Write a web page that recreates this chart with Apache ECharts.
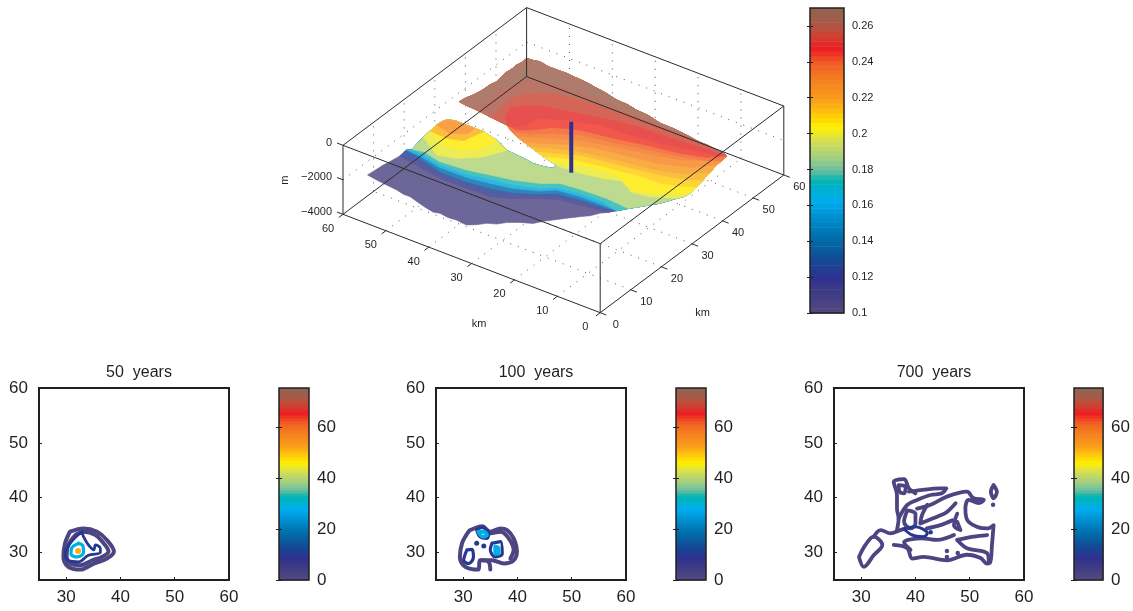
<!DOCTYPE html>
<html><head><meta charset="utf-8"><style>html,body{margin:0;background:#fff}#c{width:1133px;height:611px}</style>
<script src="https://cdn.jsdelivr.net/npm/echarts@6/dist/echarts.min.js"></script></head><body><div id="c"></div>
<script>
// Seabed surface: outer outline (km along the two horizontal axes)
const surfaceRingU=[59.0,58.8,58.6,58.2,57.9,58.1,57.4,57.8,58.1,58.4,58.6,58.5,58.1,56.7,54.0,52.0,50.0,48.2,46.2,44.4,42.6,40.9,39.2,37.5,
35.8,34.3,32.9,31.6,31.9,33.7,35.6,37.7,39.7,41.8,43.8,45.6,47.8,50.0,52.1,54.2,56.4,58.2,59.9,59.6,59.1,58.7,58.6,58.2,
58.7,58.5,58.6,58.3,58.4,56.9,55.7,53.4,51.4,49.5,47.4,44.6,41.4,38.9,35.9,33.5,30.8,27.8,24.4,20.9,17.1,14.7,12.8,10.7,
9.1,7.4,7.2,7.1,6.6,6.1,5.6,5.4,5.7,6.4,7.2,8.0,9.2,10.4,11.8,13.1,14.3,15.2,16.2,17.6,19.3,21.0,22.3,23.4,
25.7,27.7,28.9,30.6,31.9,33.4,34.6,35.9,37.7,39.9,41.1,43.0,45.4,47.9,49.5,51.4,53.1,54.8,56.9];
const surfaceRingV=[6.6,8.8,11.2,13.4,15.6,18.1,18.9,21.2,23.6,26.2,28.6,30.1,31.2,31.9,31.9,31.9,31.9,31.4,30.9,30.0,29.1,28.9,28.7,28.5,
28.2,28.3,28.6,29.0,30.3,30.8,31.3,32.0,32.7,33.4,34.1,35.0,36.4,36.7,36.9,37.3,37.5,37.6,37.9,39.8,41.3,43.5,46.1,47.8,
51.1,53.0,54.8,56.0,57.8,57.9,58.3,57.8,57.8,57.9,57.7,57.5,56.9,56.5,55.7,55.6,55.0,54.7,53.8,53.7,53.2,52.7,52.7,52.4,
52.4,51.7,49.8,48.0,45.1,42.2,39.4,36.9,35.2,34.0,32.3,30.7,29.1,27.5,25.7,23.8,22.2,21.2,19.4,18.0,16.1,14.1,12.6,10.9,
9.7,8.2,6.7,5.8,4.3,3.1,3.2,3.4,3.2,3.5,3.1,3.5,4.2,5.0,5.0,5.5,5.7,5.9,6.2];
const surfaceBase=0.105, surfaceDepth=-2500;
// Isolines of the coloured value over the surface
const rowLevels=[.115,.125,.14,.16,.175,.19,.2,.205,.215,.225,.2,.205,.21,.215,.22,.23,.235,.24,.245,.25,.255,.26,.267];
const rowU=[
[57.9,55.2,47.1,40.9,35.6,31.6,27.5,24.1,18.6,14.3,13.1],
[57.9,54.3,47.8,41.6,36.3,32.3,28.1,24.8,19.2,14.8,13.1],
[58.1,54.3,48.5,42.3,37.3,32.8,28.4,26.0,20.4,15.9,13.1],
[58.1,54.8,49.3,43.1,38.3,33.7,29.0,26.7,21.7,17.1,13.1],
[57.4,54.9,49.8,43.9,39.2,34.4,29.6,27.2,22.4,17.1,13.1],
[57.4,55.2,50.5,44.7,40.1,35.4,30.6,27.5,23.2,17.2,11.8],
[58.1,52.4,48.6,45.2,43.5,42.6],
[58.4,53.4,49.8,46.9,46.2],
[58.4,54.3,51.2,50.0],
[58.6,54.8,52.0,52.0],
[31.9,31.0,26.5,21.9,17.6,15.0,10.9,6.4],
[33.7,30.1,25.5,20.5,16.5,13.5,10.0,5.4],
[35.6,31.6,27.0,21.5,16.7,12.1,7.8,5.6],
[37.7,34.2,30.3,24.8,19.3,13.8,8.6,6.1],
[39.7,35.8,31.6,26.3,20.8,15.3,9.9,6.6],
[41.8,38.9,34.5,29.7,23.6,16.7,10.7,7.1],
[43.8,41.6,37.8,33.4,26.8,20.3,13.8,7.2],
[45.6,42.3,38.9,34.4,27.7,21.1,14.5,9.0,7.2],
[47.8,45.2,43.1,40.1,35.4,28.6,22.0,15.2,10.2,7.4],
[47.8,46.4,44.7,44.5,39.5,33.4,26.7,20.3,15.0,10.5,7.4],
[47.8,49.8,50.8,48.8,46.0,40.2,33.7,26.8,19.3,12.8,7.4],
[52.1,52.2,52.8,51.2,47.1,41.8,35.8,28.4,20.7,12.6,7.4],
[56.4,55.7,56.1,54.0,49.2,43.3,36.9,30.6,21.2,12.8]];
const rowV=[
[15.6,15.1,13.6,13.7,13.8,15.9,18.9,20.6,21.6,22.2,23.8],
[15.6,16.1,14.6,14.6,14.8,16.9,19.7,21.6,22.4,22.9,23.8],
[18.1,17.2,15.5,15.6,16.3,17.6,20.1,22.2,23.0,23.3,23.8],
[18.1,17.9,16.7,16.8,17.7,18.8,21.0,23.1,23.8,23.9,23.8],
[18.9,18.6,17.5,17.8,18.9,19.8,21.8,23.9,24.7,24.9,23.8],
[18.9,19.5,18.4,19.0,20.1,21.2,23.2,25.4,25.9,26.2,25.7],
[23.6,20.0,21.2,24.1,27.1,29.1],
[26.2,23.6,24.0,26.4,30.9],
[26.2,25.9,27.1,31.9],
[28.6,27.7,29.7,31.9],
[30.3,30.2,30.5,31.6,33.3,30.7,31.5,34.0],
[30.8,32.3,33.4,34.1,31.8,31.8,33.6,36.9],
[31.3,33.4,34.5,35.5,36.4,36.5,38.1,39.4],
[32.0,33.7,35.8,36.8,37.8,38.9,40.4,42.2],
[32.7,34.8,36.6,37.9,38.9,39.9,42.1,45.1],
[33.4,34.8,37.4,39.4,40.6,41.9,44.4,48.0],
[34.1,35.4,37.7,40.1,41.9,43.6,45.4,49.8],
[35.0,36.3,39.1,41.6,43.1,44.8,46.4,48.4,49.8],
[36.4,36.0,37.5,40.8,43.0,44.3,46.0,47.3,49.1,51.7],
[36.4,36.6,38.6,41.6,44.4,46.7,47.1,48.0,49.3,50.6,51.7],
[36.4,38.6,42.2,44.3,45.9,47.6,49.3,50.6,50.9,51.6,51.7],
[36.9,40.4,44.4,47.7,50.7,52.0,52.2,52.8,52.8,52.5,51.7],
[37.5,40.9,46.9,51.6,53.5,54.1,53.8,53.7,53.6,52.7]];
const poleU=29.6,poleV=32,poleZ=[0,-2957];
const uTicks=[0,10,20,30,40,50,60],vTicks=[0,10,20,30,40,50,60],zTicks=[0,-2000,-4000];
const barTicksTop=[0.1,0.12,0.14,0.16,0.18,0.2,0.22,0.24,0.26];
const barTicksBottom=[0,20,40,60];
const panelTicks=[30,40,50,60];
const panelTitles=['50  years','100  years','700  years'];
const stops=[[0,'#544a80'],[.074,'#3d3a85'],[.118,'#2e3192'],[.184,'#104e96'],[.239,'#006aa8'],[.315,'#0090d0'],[.37,'#00aeef'],[.435,'#00b4b4'],[.468,'#6abf9f'],[.512,'#a3cf80'],[.567,'#d8df50'],[.61,'#fff200'],[.654,'#ffc60b'],[.70,'#f99d1c'],[.775,'#f47b20'],[.824,'#f15a24'],[.868,'#ed1c24'],[.906,'#d2402e'],[.95,'#a85a48'],[1,'#8f6552']];
const hex=c=>[1,3,5].map(i=>parseInt(c.substr(i,2),16));
function cmap(t,wash){t=Math.max(0,Math.min(.9999,t));t=(Math.floor(t*64)+.5)/64;let i=0;while(i<stops.length-2&&t>stops[i+1][0])i++;const a=stops[i],b=stops[i+1],f=Math.min(1,(t-a[0])/(b[0]-a[0]));const A=hex(a[1]),B=hex(b[1]);return 'rgb('+A.map((x,k)=>{const v=x+(B[k]-x)*f;return Math.round(v+(255-v)*(wash||0))}).join(',')+')'}
const p1Purple=[[[30.7,33.8],[33.2,34.4],[35.7,33.8],[37.5,32.3],[38.8,30.2],[37.5,28.9],[35.1,28.0],[32.6,26.9],[30.4,27.4],[29.5,29.2],[29.8,31.7]],[[31.7,33.2],[33.2,33.8],[35.4,33.2],[36.9,31.7],[37.8,30.2],[36.6,29.2],[34.8,28.6],[32.6,27.7],[30.7,28.0],[30.1,29.2],[30.4,31.4]]];
const p1Blue=[[[32.9,33.8],[31.0,32.0],[29.8,29.8],[30.4,28.6],[32.3,28.3],[34.1,29.5],[36.3,30.0],[36.3,30.8],[35.4,31.4],[35.1,30.5],[34.1,31.4],[33.2,32.9]]];
const p1Cyan=[[[32.3,31.7],[31.0,30.8],[30.9,29.7],[32.1,29.2],[33.2,30.0],[33.1,31.2]]];
const p1Hot=[[32.2,30.3]];
const p2Purple=[[[31.0,33.8],[29.8,31.7],[29.4,29.2],[30.4,27.4],[32.8,26.9],[33.1,28.6],[35.3,28.6],[37.5,28.0],[39.3,28.6],[39.9,30.2],[39.3,32.6],[38.1,34.1],[36.9,34.4],[35.0,33.8],[33.5,34.8],[31.3,34.1]]];
const p2Open=[[[35.0,33.5],[36.9,33.8],[38.4,32.6],[39.3,30.5],[38.7,28.9]],[[33.5,28.6],[34.7,28.3],[35.0,26.9]]];
const p2Blue=[[[32.5,34.1],[33.5,34.6],[34.7,33.5],[34.4,32.6],[33.1,32.9]],[[30.7,30.5],[31.6,30.6],[31.9,29.2],[31.0,28.0],[30.1,28.6]],[[35.3,31.7],[36.9,32.0],[37.2,29.8],[35.9,29.2],[35.0,30.5]]];
const p2Cyan=[[[32.8,33.8],[33.8,33.8],[34.4,33.2],[33.6,32.9]],[[35.9,31.1],[36.5,30.8],[36.5,29.8],[35.9,29.8]]];
const p2Dots=[[32.5,31.7],[33.8,31.2]];
const p3Closed=[[[29.6,29.2],[30.8,31.4],[32.3,32.9],[33.9,31.4],[32.3,29.5],[30.5,27.4]],[[36.9,42.3],[38.2,42.0],[37.9,40.8],[37.1,41.1]],[[38.5,37.7],[40.0,37.1],[40.0,35.3],[39.1,34.4],[37.9,35.6]],[[54.4,42.3],[55.0,41.1],[54.4,39.9],[53.9,41.1]]];
const p3Open=[[[32.3,32.9],[33.6,34.1],[35.4,33.5],[37.2,34.1],[38.2,34.4]],[[36.6,34.1],[36.9,36.2],[36.6,38.0],[36.6,40.5],[36.0,42.9],[37.9,43.4],[38.8,41.7],[40.0,40.8]],[[38.8,41.1],[40.9,41.4],[44.6,41.7],[45.7,41.7],[44.9,40.8],[42.8,40.5],[40.3,39.6],[38.5,38.7],[36.9,36.2]],[[40.3,38.0],[42.8,38.7],[45.8,40.2],[49.5,41.1],[50.7,39.9],[52.6,39.6],[51.7,39.0],[49.8,39.6],[49.2,38.0],[49.8,35.6],[53.2,34.4],[54.4,35.0],[54.1,31.4],[53.8,28.3],[53.2,28.0],[52.0,29.0],[49.5,29.6],[45.8,28.6],[41.5,29.2],[39.4,28.9],[38.5,30.8],[36.0,31.4]],[[42.2,38.7],[41.2,36.8],[40.9,35.3],[44.6,36.8],[45.8,37.4],[47.4,39.0]],[[47.7,37.1],[47.1,35.0],[48.3,34.1],[47.7,35.6]],[[47.1,33.2],[44.0,32.3],[41.2,32.6],[37.9,31.9],[39.1,30.5]],[[47.7,32.3],[50.7,32.9],[53.2,33.2]],[[47.7,32.3],[49.5,30.8],[53.2,29.9],[53.5,28.3]],[[42.1,34.4],[44.6,35.0],[46.8,35.9]]];
const p3Blue=[[[37.9,34.3],[40.0,34.7],[42.2,33.5],[41.5,32.9],[39.4,33.2]]];
const p3Dots=[[54.3,38.7],[45.8,30.3],[45.8,29.2],[47.8,29.9]];
const p3BlueDots=[[42.8,33.7]];

// projection of the 3D box
const O={x:600.2,y:312.7},UX=-4.2867,VX=3.06,UY=-1.64,VY=-2.295,ZY=0.01725;
const proj=(u,v,z)=>[O.x+UX*u+VX*v,O.y+UY*u+VY*v-ZY*(z+4000)];
const near=(u,v)=>{let b=0,d=1e9;surfaceRingU.forEach((x,i)=>{const e=(x-u)**2+(surfaceRingV[i]-v)**2;if(e<d){d=e;b=i}});return b};
const polys=[{lv:surfaceBase,pts:surfaceRingU.map((x,i)=>[x,surfaceRingV[i]])}];
rowLevels.forEach((lv,r)=>{const pts=rowU[r].map((x,i)=>[x,rowV[r][i]]);const s=near(...pts[0]),e=near(...pts[pts.length-1]);let k=e;const n=surfaceRingU.length;for(let g=0;g<n;g++){pts.push([surfaceRingU[k],surfaceRingV[k]]);if(k===s)break;k=(k-1+n)%n}polys.push({lv,pts})});
const majors=[],dots=[];
const E=[[0,0],[60,0],[60,60],[0,60]];
E.forEach((c,i)=>{const d=E[(i+1)%4];majors.push([[c[0],c[1],-4000],[d[0],d[1],-4000]]);majors.push([[c[0],c[1],0],[d[0],d[1],0]]);majors.push([[c[0],c[1],-4000],[c[0],c[1],0]])});
uTicks.forEach(u=>{majors.push([[u,0,-4000],[u,-1.4,-4000]]);if(u>0&&u<60){dots.push([[u,0,-4000],[u,60,-4000]]);dots.push([[u,60,-4000],[u,60,0]])}});
vTicks.forEach(v=>{majors.push([[0,v,-4000],[-1.4,v,-4000]]);if(v>0&&v<60){dots.push([[0,v,-4000],[60,v,-4000]]);dots.push([[60,v,-4000],[60,v,0]])}});
zTicks.forEach(z=>{majors.push([[60,0,z],[61.4,0,z]]);if(z===-2000){dots.push([[60,0,z],[60,60,z]]);dots.push([[60,60,z],[0,60,z]])}});
const texts=[];
uTicks.forEach(u=>{const p=proj(u,0,-4000);texts.push([p[0]-15,p[1]+14.5,String(u),'center'])});
vTicks.forEach(v=>{const p=proj(0,v,-4000);texts.push([p[0]+15.5,p[1]+12,String(v),'center'])});
zTicks.forEach(z=>{const p=proj(60,0,z);texts.push([p[0]-11,p[1]-2.5,z===0?'0':'\u2212'+Math.abs(z),'right'])});
const kmA=proj(16.4,-16.6,-4000),kmB=proj(-15.9,11.2,-4000),mLab=proj(68.9,-6.5,-2000);
const o={animation:false,grid:[{left:0,top:0,width:1133,height:611,show:false}],xAxis:[{type:'value',min:0,max:1133,show:false,gridIndex:0}],yAxis:[{type:'value',min:0,max:611,inverse:true,show:false,gridIndex:0}],title:[],series:[]};
const lineS=(list,style)=>({type:'custom',xAxisIndex:0,yAxisIndex:0,silent:true,clip:false,data:list.map((_,i)=>[i]),renderItem:(p,api)=>{const s=list[p.dataIndex];const a=api.coord(proj(...s[0])),b=api.coord(proj(...s[1]));return{type:'line',shape:{x1:a[0],y1:a[1],x2:b[0],y2:b[1]},style}}});
o.series.push(lineS(dots,{stroke:'#555',lineWidth:1,lineDash:[1,7],fill:null}));
o.series.push({type:'custom',xAxisIndex:0,yAxisIndex:0,silent:true,clip:false,data:polys.map((_,i)=>[i]),renderItem:(p,api)=>{const q=polys[p.dataIndex];const c=cmap((q.lv-.1)/.17,.18);return{type:'polygon',shape:{points:q.pts.map(a=>api.coord(proj(a[0],a[1],surfaceDepth)))},style:{fill:c,stroke:c,lineWidth:.6}}}});
o.series.push(lineS(majors,{stroke:'#2b2b2b',lineWidth:1,fill:null}));
o.series.push(lineS([[[poleU,poleV,poleZ[0]],[poleU,poleV,poleZ[1]]]],{stroke:'#2e3192',lineWidth:4,fill:null}));
o.series.push({type:'custom',xAxisIndex:0,yAxisIndex:0,silent:true,clip:false,data:texts.map((_,i)=>[i]),renderItem:(p,api)=>{const t=texts[p.dataIndex];const a=api.coord([t[0],t[1]]);return{type:'text',x:a[0],y:a[1],style:{text:t[2],fill:'#231f20',font:'11px "Liberation Sans"',align:t[3],verticalAlign:'middle'}}}});
o.series.push({type:'custom',xAxisIndex:0,yAxisIndex:0,silent:true,clip:false,data:[[0],[1],[2]],renderItem:(p,api)=>{const i=p.dataIndex;const q=api.coord(i===0?kmA:i===1?kmB:mLab);return{type:'text',x:q[0],y:q[1],rotation:i===2?Math.PI/2:0,style:{text:i===2?'m':'km',fill:'#231f20',font:'11px "Liberation Sans"',align:'center',verticalAlign:'middle'}}}});
function addBar(left,top,w,h,min,max,ticks,fs,labelMargin,pad){const gi=o.grid.length;o.grid.push({left,top,width:w,height:h,show:true,borderColor:'#231f20',borderWidth:1.5,backgroundColor:'transparent',z:5});const xi=o.xAxis.length;o.xAxis.push({type:'value',min:0,max:1,show:false,gridIndex:gi});const yi=o.yAxis.length;
const tk={show:true,inside:true,length:3,lineStyle:{color:'#231f20'},customValues:ticks};
o.yAxis.push({type:'value',min,max,position:'right',gridIndex:gi,axisLine:{show:false},splitLine:{show:false},axisTick:tk,axisLabel:{fontFamily:'Liberation Sans',fontSize:fs,color:'#231f20',margin:labelMargin,padding:[pad,0,0,0],customValues:ticks},z:6});
o.yAxis.push({type:'value',min,max,position:'left',gridIndex:gi,axisLine:{show:false},splitLine:{show:false},axisTick:tk,axisLabel:{show:false,customValues:ticks},z:6});
const N=64,cells=[];for(let i=0;i<N;i++)cells.push([min+(max-min)*i/N,min+(max-min)*(i+1)/N,i]);
o.series.push({type:'custom',xAxisIndex:xi,yAxisIndex:yi,silent:true,data:cells,renderItem:(p,api)=>{const a=api.coord([0,api.value(1)]),b=api.coord([1,api.value(0)]);const c=cmap((api.value(2)+.5)/N);return{type:'rect',shape:{x:a[0],y:a[1],width:b[0]-a[0],height:b[1]-a[1]+.5},style:{fill:c}}}});}
addBar(810,8,34,305,.1,.27,barTicksTop,11,8,2);
const panels=[[39,279],[436,676],[834,1074]];
const PUR=cmap(.03),BLU=cmap(.14),CYA=cmap(.38),HOT=cmap(.68);
function addPanel(i,lists,dotsL){const [l,b]=panels[i];const gi=o.grid.length;o.grid.push({left:l,top:388,width:190,height:192,show:true,borderColor:'#231f20',borderWidth:2,backgroundColor:'transparent'});const xi=o.xAxis.length,yi=o.yAxis.length;
const ax=(pos)=>({type:'value',min:25,max:60,position:pos,gridIndex:gi,axisLine:{show:false},splitLine:{show:false},axisTick:{inside:true,length:3,lineStyle:{color:'#231f20'},customValues:panelTicks},axisLabel:{fontFamily:'Liberation Sans',fontSize:17,color:'#231f20',margin:pos==='left'?11:9,padding:pos==='left'?[3,0,0,0]:0,customValues:panelTicks}});
o.xAxis.push(ax('bottom'));o.yAxis.push(ax('left'));
o.title.push({text:panelTitles[i],left:l+95,top:360,textAlign:'center',textStyle:{fontFamily:'Liberation Sans',fontSize:16,fontWeight:'normal',color:'#231f20'}});
lists.forEach(([arr,color,closed,w])=>arr.forEach(c=>{o.series.push({type:'line',xAxisIndex:xi,yAxisIndex:yi,silent:true,showSymbol:false,smooth:0.35,data:closed?c.concat([c[0]]):c,lineStyle:{color,width:w,join:'round',cap:'round'}})}));
dotsL.forEach(([arr,color,size])=>o.series.push({type:'scatter',xAxisIndex:xi,yAxisIndex:yi,silent:true,data:arr,symbolSize:size,itemStyle:{color,opacity:1}}));
addBar(b,388,30,192,0,75.3,barTicksBottom,17,8,3);}
addPanel(0,[[p1Purple,PUR,true,4],[p1Blue,BLU,true,2.8],[p1Cyan,CYA,true,3.2]],[[p1Hot,HOT,6]]);
addPanel(1,[[p2Purple,PUR,true,4],[p2Open,PUR,false,4],[p2Blue,BLU,true,3.2],[p2Cyan,CYA,true,3.8]],[[p2Dots,BLU,5]]);
addPanel(2,[[p3Closed,PUR,true,3.8],[p3Open,PUR,false,3.8],[p3Blue,BLU,true,3]],[[p3Dots,PUR,4.5],[p3BlueDots,BLU,4.5]]);
echarts.init(document.getElementById('c'),null,{renderer:'canvas'}).setOption(o);
</script></body></html>
